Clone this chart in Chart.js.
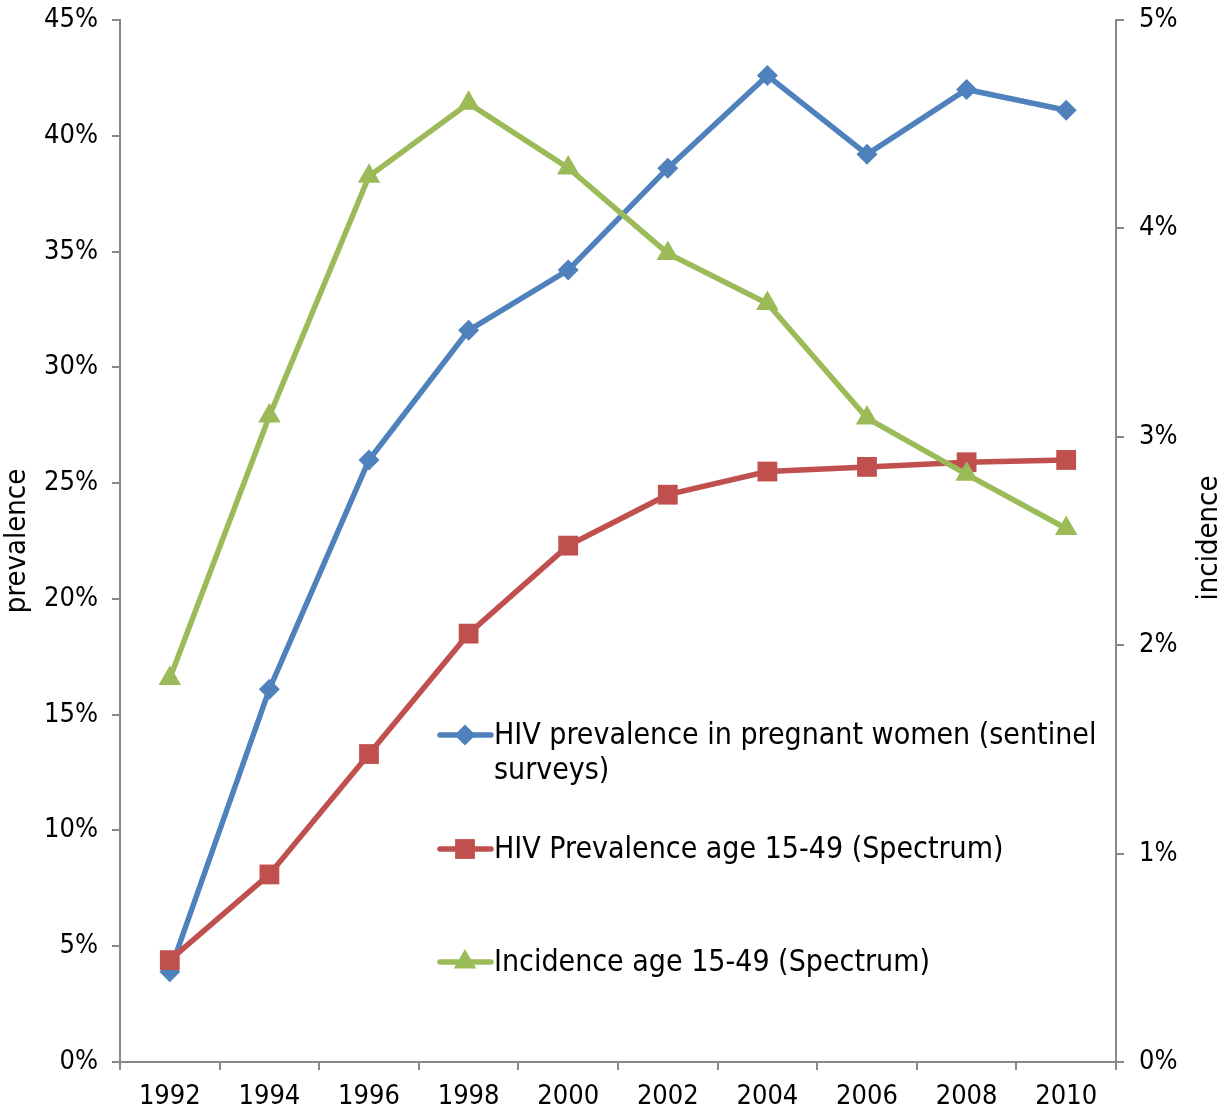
<!DOCTYPE html>
<html>
<head>
<meta charset="utf-8">
<title>HIV prevalence and incidence</title>
<script src="https://cdn.jsdelivr.net/npm/chart.js@4.4.1/dist/chart.umd.min.js"></script>
<style>
  html, body { margin: 0; padding: 0; background: #fff; }
  #wrap { position: relative; width: 1228px; height: 1111px; }
</style>
</head>
<body>
<div id="wrap"><canvas id="hivChart"></canvas></div>
<script>
// --- Dados ---
const years = ['1992', '1994', '1996', '1998', '2000', '2002', '2004', '2006', '2008', '2010'];
const pregnantWomen = [3.9, 16.1, 26.0, 31.6, 34.2, 38.6, 42.6, 39.2, 42.0, 41.1];
const prevalence1549 = [4.4, 8.1, 13.3, 18.5, 22.3, 24.5, 25.5, 25.7, 25.9, 26.0];
const incidence1549 = [1.84, 3.10, 4.25, 4.60, 4.29, 3.88, 3.64, 3.09, 2.82, 2.56];
const prevalenceTicks = [0, 5, 10, 15, 20, 25, 30, 35, 40, 45];
const incidenceTicks = [0, 1, 2, 3, 4, 5];
const legendTexts = [
    ['HIV prevalence in pregnant women (sentinel', 'surveys)'],
    ['HIV Prevalence age 15-49 (Spectrum)'],
    ['Incidence age 15-49 (Spectrum)']
];

const FONT = "'DejaVu Sans Condensed', 'DejaVu Sans', Verdana, sans-serif";
const axisGrey = '#898989';
const colors = ['#4F81BD', '#C0504D', '#9BBB59'];
const markers = [
    { style: 'rectRot', r: 10.5 },
    { style: 'rect', r: 14 },
    { style: 'triangle', r: 13 }
];

function drawMarker(ctx, style, x, y, r, color) {
    ctx.save();
    ctx.fillStyle = color;
    ctx.beginPath();
    if (style === 'rectRot') {
        ctx.moveTo(x, y - r);
        ctx.lineTo(x + r, y);
        ctx.lineTo(x, y + r);
        ctx.lineTo(x - r, y);
    } else if (style === 'rect') {
        const h = r * Math.SQRT1_2;
        ctx.rect(x - h, y - h, 2 * h, 2 * h);
    } else {
        const a = Math.PI * 2 / 3;
        for (let i = 0; i < 3; i++) {
            const px = x + Math.sin(i * a) * r;
            const py = y - Math.cos(i * a) * r;
            i === 0 ? ctx.moveTo(px, py) : ctx.lineTo(px, py);
        }
    }
    ctx.closePath();
    ctx.fill();
    ctx.restore();
}

// --- Legenda e títulos dos eixos ---
const extrasPlugin = {
    id: 'extras',
    afterDraw(chart) {
        const ctx = chart.ctx;
        ctx.save();
        ctx.fillStyle = '#000';
        ctx.textBaseline = 'middle';

        // títulos rotacionados (ambos de baixo para cima)
        ctx.font = '29px ' + FONT;
        ctx.textAlign = 'center';
        [['prevalence', 17, 541], ['incidence', 1209, 538]].forEach(([t, x, y]) => {
            ctx.save();
            ctx.translate(x, y);
            ctx.rotate(-Math.PI / 2);
            ctx.fillText(t, 0, 0);
            ctx.restore();
        });

        // legenda dentro da área do gráfico
        const rowY = [735, 849, 962];
        ctx.font = '30px ' + FONT;
        ctx.textAlign = 'left';
        legendTexts.forEach((lines, i) => {
            const y = rowY[i];
            ctx.strokeStyle = colors[i];
            ctx.lineWidth = 5.5;
            ctx.lineCap = 'round';
            ctx.beginPath();
            ctx.moveTo(440, y);
            ctx.lineTo(491, y);
            ctx.stroke();
            drawMarker(ctx, markers[i].style, 465, y, markers[i].r, colors[i]);
            ctx.fillStyle = '#000';
            lines.forEach((line, j) => ctx.fillText(line, 494, y + 1 + j * 35));
        });
        ctx.restore();
    }
};

const gridOpts = {
    drawOnChartArea: false,
    drawTicks: true,
    tickLength: 8,
    color: axisGrey,
    lineWidth: 2
};
const borderOpts = { display: true, color: axisGrey, width: 2 };
const tickFont = { family: FONT, size: 27 };

const datasets = [pregnantWomen, prevalence1549, incidence1549].map((data, i) => ({
    label: legendTexts[i].join(' '),
    data,
    yAxisID: i === 2 ? 'y2' : 'y',
    borderColor: colors[i],
    backgroundColor: colors[i],
    borderWidth: 5.5,
    tension: 0,
    pointStyle: markers[i].style,
    pointRadius: markers[i].r,
    pointHoverRadius: markers[i].r,
    pointBorderWidth: 0,
    pointBackgroundColor: colors[i],
    order: 2 - i
}));

const fitVertical = w => s => { s.width = w; s.paddingTop = 0; s.paddingBottom = 0; };

const ctx = document.getElementById('hivChart').getContext('2d');
new Chart(ctx, {
    type: 'line',
    data: { labels: years, datasets },
    options: {
        responsive: true,
        maintainAspectRatio: false,
        animation: false,
        layout: { padding: { top: 20, left: 0, right: 0, bottom: 0 } },
        plugins: {
            legend: { display: false },
            tooltip: { enabled: false }
        },
        scales: {
            x: {
                type: 'category',
                offset: true,
                grid: { ...gridOpts, offset: true },
                border: borderOpts,
                ticks: { color: '#000', font: tickFont, padding: 11, maxRotation: 0, autoSkip: false },
                afterFit: s => { s.height = 49; s.paddingLeft = 0; s.paddingRight = 0; }
            },
            y: {
                position: 'left',
                min: 0,
                max: 45,
                grid: gridOpts,
                border: borderOpts,
                ticks: { color: '#000', font: tickFont, padding: 14, callback: v => v + '%' },
                afterBuildTicks: s => { s.ticks = prevalenceTicks.map(v => ({ value: v })); },
                afterFit: fitVertical(120)
            },
            y2: {
                position: 'right',
                min: 0,
                max: 5,
                grid: gridOpts,
                border: borderOpts,
                ticks: { color: '#000', font: tickFont, padding: 15, callback: v => v + '%' },
                afterBuildTicks: s => { s.ticks = incidenceTicks.map(v => ({ value: v })); },
                afterFit: fitVertical(112)
            }
        }
    },
    plugins: [extrasPlugin]
});
</script>
</body>
</html>
